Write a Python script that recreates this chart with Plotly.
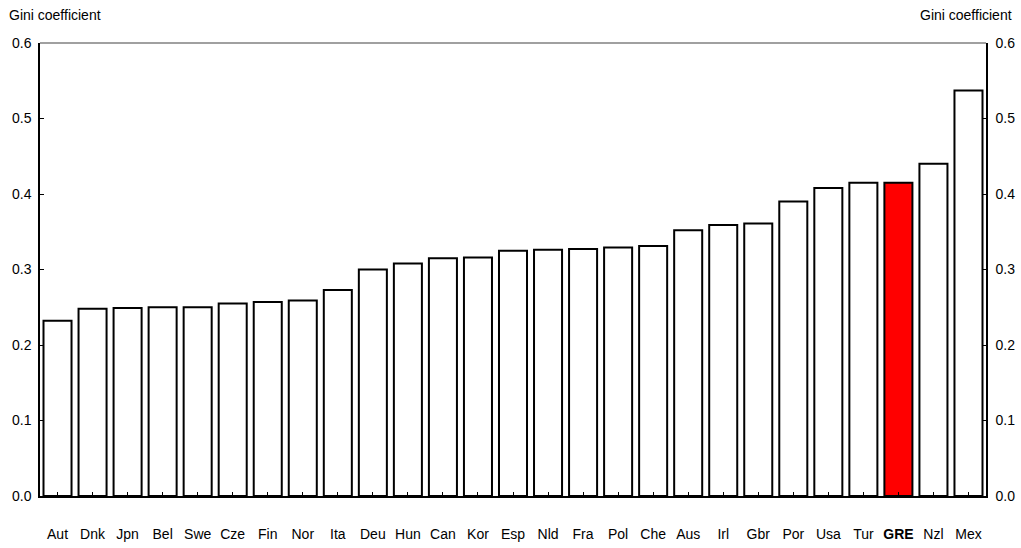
import plotly.graph_objects as go

categories = ["Aut", "Dnk", "Jpn", "Bel", "Swe", "Cze", "Fin", "Nor", "Ita", "Deu",
              "Hun", "Can", "Kor", "Esp", "Nld", "Fra", "Pol", "Che", "Aus", "Irl",
              "Gbr", "Por", "Usa", "Tur", "GRE", "Nzl", "Mex"]
gini = [0.232, 0.248, 0.249, 0.250, 0.250, 0.255, 0.257, 0.259, 0.273, 0.300,
        0.308, 0.315, 0.316, 0.325, 0.326, 0.327, 0.329, 0.331, 0.352, 0.359,
        0.361, 0.390, 0.408, 0.415, 0.415, 0.440, 0.537]
highlight = "GRE"
y_ticks = [0.0, 0.1, 0.2, 0.3, 0.4, 0.5, 0.6]
axis_title = "Gini coefficient"

FONT = "Liberation Sans, Arial, sans-serif"

colors = ["#FF0000" if c == highlight else "#FFFFFF" for c in categories]
tick_text = [f"<b>{c}</b>" if c == highlight else c for c in categories]

fig = go.Figure()
fig.add_trace(go.Bar(
    x=categories, y=gini,
    marker=dict(color=colors, line=dict(color="#000000", width=2)),
    hoverinfo="x+y", showlegend=False,
))
# invisible trace to activate the right-hand axis
fig.add_trace(go.Scatter(
    x=categories, y=gini, yaxis="y2", mode="markers",
    marker=dict(opacity=0), hoverinfo="skip", showlegend=False,
))

fig.update_layout(
    width=1021, height=548,
    margin=dict(l=40, r=35, t=43, b=52, autoexpand=False),
    paper_bgcolor="white", plot_bgcolor="white",
    font=dict(family=FONT, size=14, color="#000000"),
    bargap=0.2,
    xaxis=dict(
        type="category", range=[-0.5, len(categories) - 0.5],
        tickmode="array", tickvals=categories, ticktext=tick_text,
        ticks="inside", ticklen=4, tickwidth=1, tickcolor="#000000",
        showline=True, linecolor="#000000", linewidth=2,
        showgrid=False, zeroline=False, automargin=False,
        ticklabelstandoff=24, layer="above traces",
        tickfont=dict(family=FONT, size=14),
    ),
    yaxis=dict(
        range=[0, 0.6], tickvals=y_ticks, tickformat=".1f",
        ticks="inside", ticklen=4, tickwidth=1, tickcolor="#000000",
        showline=True, linecolor="#000000", linewidth=1.5,
        showgrid=False, zeroline=False, automargin=False,
        ticklabelstandoff=4,
        tickfont=dict(family=FONT, size=14),
    ),
    yaxis2=dict(
        range=[0, 0.6], tickvals=y_ticks, tickformat=".1f",
        overlaying="y", side="right",
        ticks="inside", ticklen=4, tickwidth=1, tickcolor="#000000",
        showline=True, linecolor="#000000", linewidth=1.5,
        showgrid=False, zeroline=False, automargin=False,
        ticklabelstandoff=5,
        tickfont=dict(family=FONT, size=14),
    ),
    shapes=[dict(type="line", xref="paper", yref="paper", x0=0, x1=1, y0=1, y1=1,
                 line=dict(color="#808080", width=1.5))],
    annotations=[
        dict(text=axis_title, xref="paper", yref="paper", x=0, y=1,
             xshift=-33, yshift=28, xanchor="left", yanchor="middle",
             showarrow=False, font=dict(family=FONT, size=14)),
        dict(text=axis_title, xref="paper", yref="paper", x=1, y=1,
             xshift=28, yshift=28, xanchor="right", yanchor="middle",
             showarrow=False, font=dict(family=FONT, size=14)),
    ],
)

fig.write_html("out.html",
               config={"displayModeBar": False},
               post_script="document.body.style.margin='0';document.body.style.overflow='hidden';")
